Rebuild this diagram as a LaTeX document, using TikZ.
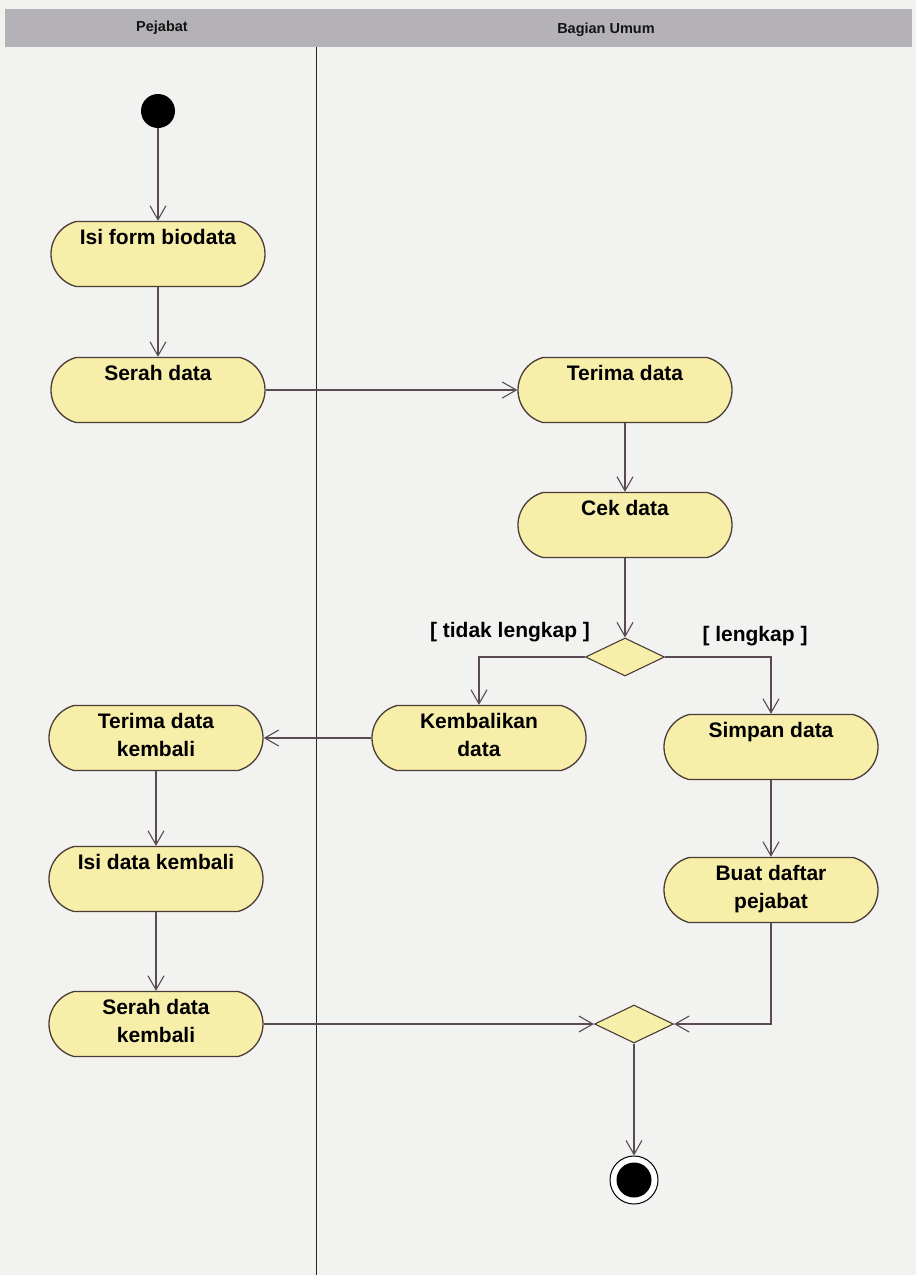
\documentclass[tikz,border=0pt]{standalone}
\usepackage{fontspec}
\setmainfont{Liberation Sans}
\usetikzlibrary{shapes.misc,shapes.geometric,arrows.meta}
\definecolor{paper}{HTML}{F2F2F0}
\definecolor{bar}{HTML}{B4B2B6}
\definecolor{bartext}{HTML}{141414}
\definecolor{actfill}{HTML}{F7EEAA}
\definecolor{ink}{HTML}{4A3C36}
\definecolor{flow}{HTML}{5A4A52}
\tikzset{
  act/.style={rounded rectangle, rounded rectangle arc length=150, draw=ink,
    line width=1.3pt, fill=actfill, minimum width=214pt, minimum height=65pt,
    inner sep=0pt},
  acttext/.style={anchor=north, align=center, yshift=-8pt, inner sep=0pt,
    font=\bfseries\fontsize{21}{28}\selectfont},
  decision/.style={diamond, draw=ink, line width=1.1pt, fill=actfill,
    minimum width=79pt, minimum height=38pt, inner sep=0pt},
  flowline/.style={draw=flow, line width=1.1pt,
    -{Straight Barb[length=14pt,width=16pt,line width=1.1pt]}},
  guard/.style={inner sep=0pt, font=\bfseries\fontsize{21}{24}\selectfont},
  lanehead/.style={inner sep=0pt, text=bartext, font=\bfseries\fontsize{14.5}{16}\selectfont},
}
\begin{document}
\begin{tikzpicture}[x=1pt, y=-1pt]
  % page and swimlane frame
  \fill[paper] (0,0) rectangle (916,1275);
  \useasboundingbox (0,0) rectangle (916,1275);
  \fill[bar] (5,9) rectangle (912,47);
  \node[lanehead] (hp) at (162,28) {Pejabat};
  \node[lanehead] (hb) at (606,30) {Bagian Umum};
  \draw[line width=0.9pt, black!85] (316,47) -- (316,1275);

  % start / end
  \node[circle, fill=black, minimum size=34pt, inner sep=0pt] (start) at (158,111) {};
  \node[circle, draw=black, line width=1pt, fill=white, minimum size=48pt, inner sep=0pt] (endo) at (634,1180) {};
  \node[circle, fill=black, minimum size=35pt, inner sep=0pt] (endi) at (634,1180) {};

  % actions, Pejabat lane
  \node[act] (isi) at (158,254) {};
  \node[acttext] (isit) at (isi.north) {Isi form biodata};
  \node[act] (serah) at (158,390) {};
  \node[acttext] (seraht) at (serah.north) {Serah data};
  \node[act] (tdk) at (156,738) {};
  \node[acttext] (tdkt) at (tdk.north) {Terima data\\kembali};
  \node[act] (idk) at (156,879) {};
  \node[acttext] (idkt) at (idk.north) {Isi data kembali};
  \node[act] (sdk) at (156,1024) {};
  \node[acttext] (sdkt) at (sdk.north) {Serah data\\kembali};

  % actions, Bagian Umum lane
  \node[act] (terima) at (625,390) {};
  \node[acttext] (terimat) at (terima.north) {Terima data};
  \node[act] (cek) at (625,525) {};
  \node[acttext] (cekt) at (cek.north) {Cek data};
  \node[act] (kemb) at (479,738) {};
  \node[acttext] (kembt) at (kemb.north) {Kembalikan\\data};
  \node[act] (simpan) at (771,747) {};
  \node[acttext] (simpant) at (simpan.north) {Simpan data};
  \node[act] (buat) at (771,890) {};
  \node[acttext] (buatt) at (buat.north) {Buat daftar\\pejabat};

  % decision and merge
  \node[decision] (dec) at (625,657) {};
  \node[decision] (merge) at (634,1024) {};

  % guards
  \node[guard] (gno) at (510,632) {[ tidak lengkap ]};
  \node[guard] (gyes) at (755,636) {[ lengkap ]};

  % flows
  \draw[flowline] (start) -- (isi);
  \draw[flowline] (isi) -- (serah);
  \draw[flowline] (serah.east) -- (terima.west);
  \draw[flowline] (terima) -- (cek);
  \draw[flowline] (cek) -- (dec);
  \draw[flowline] (dec.west) -| (kemb.north);
  \draw[flowline] (dec.east) -| (simpan.north);
  \draw[flowline] (kemb.west) -- (tdk.east);
  \draw[flowline] (tdk) -- (idk);
  \draw[flowline] (idk) -- (sdk);
  \draw[flowline] (simpan) -- (buat);
  \draw[flowline] (sdk.east) -- (merge.west);
  \draw[flowline] (buat.south) |- (merge.east);
  \draw[flowline] (merge) -- (endo);
\end{tikzpicture}
\end{document}
